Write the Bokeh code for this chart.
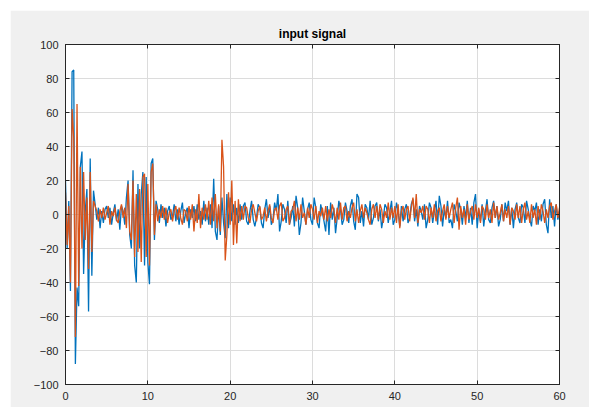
from bokeh.plotting import figure
from bokeh.models import Range1d, FixedTicker, LinearAxis
from bokeh.embed import file_html
from bokeh.resources import INLINE

T_START = 0.0
T_STEP = 0.2

blue = [
    20, -20, 8, -45, 84, 85, -88, -43, -54, 28, 37, -35, 2, 15, -57, 33, -36, 14, 6,
    -3, 4, -8, 2, -5, 3, 5, -2, 4, -6, 1, 6, -4, 3, -9, 5, 2,
    -6, 10, 20, -12, -20, 26, -30, -40, 18, -20, 12, 25, -30, 22, -28, -41, 30, 33, -15, 8,
    3, -5, 6, -2, 4, -7, 2, 5, -3, -1, 6, -4, 3, -6, 2, 7, -5, 1, 4, -8, 3, -2, 5, -4, 6, -3, 2, -6, 8, -4,
    4, -6, 6, -8, 21, -10, -15, 5, -12, 10, -5, -14, 12, -8, 10, -4, 6, -6, 4, -5, 6, -3,
    5, 7, -4, -6, 2, 8, -3, -7, -2, 6,
    4, -5, -8, 3, 9, -2, 5, -6, -3, 7,
    2, 12, -10, -4, 6, 3, -5, 8, -6, -2,
    5, -7, 11, 4, -12, -5, 10, 2, -6, 3,
    7, -3, -6, 10, 4, -5, -8, 6, 1, -4,
    -10, 5, -12, 7, -3, 4, -11, -2, 8, 3,
    -6, -3, 7, 2, -5, 5, 9, -4, -9, 12,
    10, -5, 2, -7, 6, 4, -3, 8, -6, -2,
    5, 7, -4, 3, -8, -2, 6, 4, -5, 2,
    8, -6, -3, 7, 2, -7, 5, -4, 3, 6,
    -5, -2, 6, 9, -4, 3, -7, 5, 2, -3,
    6, -8, -3, 7, 4, -5, 2, 8, -6, 11,
    5, -7, 3, -2, 8, -5, -3, -8, 6, 2,
    -4, 7, 3, -6, 5, -2, 8, -5, 4, -6,
    7, 12, -8, 3, -4, 6, -7, 2, 9, -3,
    -5, 4, 8, -2, 5, -7, -3, 6, -4, 7,
    2, 8, -6, 4, -8, 3, 7, -2, -5, 6,
    4, -5, 8, 3, -3, -7, 5, 2, 7, -6,
    3, -4, 6, 9, -6, -11, 9, -2, 5, -7,
    6, -3, 2,
]

orange = [
    13, -18, 5, -40, 62, 45, -72, 65, -42, 28, -20, 25, -15, 10, -32, 25, -22, 8, 5,
    2, -4, 3, -2, 4, -3, 1, 5, -6, 2, -1, 4, -3, -5, 2, 6, -2,
    4, -8, 18, -10, -15, 20, -25, 12, -22, 15, -28, 22, 24, -25, 18, -30, 25, 30, -12, 6,
    -4, 3, -2, 5, -3, 4, -5, 1, 3, -4, 2, 5, -3, 4, -2, -6, 3, 2, -4, 5, -3, 6, -10, 3, -5, 12, -8, 4, -3, 6,
    -3, 8, -6, 10, -4, 12, -8, 6, -10, 44, 28, -27, -12, 13, -6, 20, -18, 8, -17, 9, -4, 5,
    -3, 5, 4, -2, -5, 3, 6, 1, -4, 2,
    5, -3, -1, 4, -4, 2, 6, -2, -5, 3,
    4, -3, 5, 7, -4, -2, 3, 5, -6, 2,
    3, 8, -4, 4, -3, 6, -2, 1, -6, 4,
    -2, 6, 3, -3, 5, -5, 2, -1, 4, -3,
    5, -4, 3, -2, 6, 2, -5, 4, -3, 7,
    -3, 4, 5, -4, 2, -2, 4, 7, -4, 3,
    -5, 2, 6, -2, 4, 1, -3, -6, 3, 6,
    -2, 5, -3, 6, 3, -5, 2, -2, 7, -3,
    4, -2, 5, -5, 6, -8, 2, 5, -3, 3,
    5, -4, 4, 10, -2, 12, -5, 3, 1, 5,
    -3, 5, 3, -5, 4, -2, 6, -4, 2, 4,
    -4, 2, 6, -3, 5, -2, 3, 7, -5, 4,
    10, -9, 5, -2, 3, -6, 6, -3, 2, 5,
    -3, 6, -2, 4, -5, 5, 3, -3, 6, -2,
    3, -5, 7, -2, 5, -3, 1, 6, -4, 3,
    -2, 5, -6, 4, 2, -3, 6, -2, 5, -5,
    3, 7, -3, 2, -5, 6, -2, 3, -6, 5,
    -3, 6, 2, -5, 3, -2, 5, 7, -3, 2,
    6, -2, 4,
]

x_ticks = [0, 10, 20, 30, 40, 50, 60]
y_ticks = [-100, -80, -60, -40, -20, 0, 20, 40, 60, 80, 100]
title_text = "input signal"

t_blue = [T_START + T_STEP * i for i in range(len(blue))]
t_orange = [T_START + T_STEP * i for i in range(len(orange))]

FONT = "Liberation Sans"
AX = "#262626"

p = figure(width=579, height=397, output_backend="svg", toolbar_location=None,
           x_range=Range1d(0, 60), y_range=Range1d(-100, 100),
           min_border_left=55, min_border_right=30, min_border_top=34, min_border_bottom=23)
p.margin = (10, 0, 0, 10)
p.background_fill_color = "white"
p.border_fill_color = "#f0f0f0"
p.outline_line_color = AX
p.outline_line_width = 1

p.title.text = title_text
p.title.align = "center"
p.title.text_font = FONT
p.title.text_font_size = "12px"
p.title.text_font_style = "bold"
p.title.text_color = "#000000"
p.title.standoff = 8

p.line(t_blue, blue, line_color="#0072BD", line_width=1.3)
p.line(t_orange, orange, line_color="#D95319", line_width=1.3)

for ax, ticks in ((p.xaxis[0], x_ticks), (p.yaxis[0], y_ticks)):
    ax.ticker = FixedTicker(ticks=ticks)
    ax.axis_line_color = AX
    ax.major_tick_line_color = AX
    ax.major_tick_in = 4
    ax.major_tick_out = 0
    ax.minor_tick_line_color = None
    ax.major_label_text_font = FONT
    ax.major_label_text_font_size = "11px"
    ax.major_label_text_color = AX
    ax.major_label_standoff = 7

for g, ticks in ((p.xgrid[0], x_ticks), (p.ygrid[0], y_ticks)):
    g.ticker = FixedTicker(ticks=ticks)
    g.grid_line_color = "#dcdcdc"
    g.grid_line_width = 1

top = LinearAxis(ticker=FixedTicker(ticks=x_ticks),
                 major_label_overrides={t: "" for t in x_ticks},
                 axis_line_color=AX, major_tick_line_color=AX, major_tick_in=4,
                 major_tick_out=0, minor_tick_line_color=None, major_label_standoff=0)
right = LinearAxis(ticker=FixedTicker(ticks=y_ticks),
                   major_label_overrides={t: "" for t in y_ticks},
                   axis_line_color=AX, major_tick_line_color=AX, major_tick_in=4,
                   major_tick_out=0, minor_tick_line_color=None, major_label_standoff=0)
p.add_layout(top, "above")
p.add_layout(right, "right")

open("out.html", "w").write(file_html(p, INLINE))
